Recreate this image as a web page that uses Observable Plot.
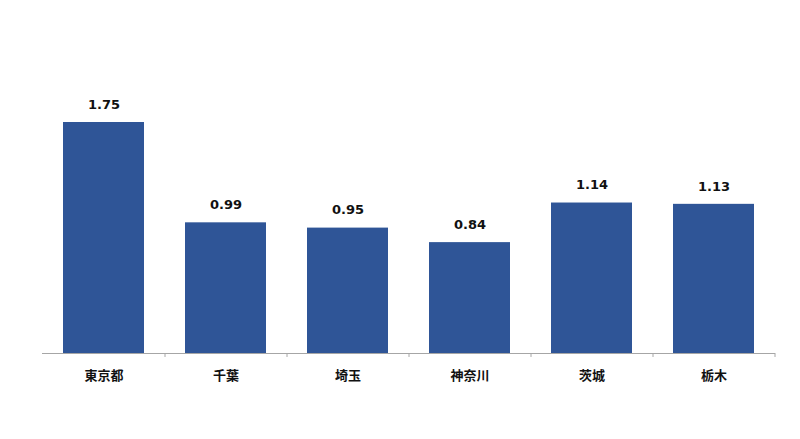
<!DOCTYPE html>
<html><head><meta charset="utf-8">
<script src="https://cdn.jsdelivr.net/npm/d3@7"></script>
<script src="https://cdn.jsdelivr.net/npm/@observablehq/plot@0.6"></script>
<style>
body{margin:0;background:#fff;}
svg{font-family:"DejaVu Sans","Noto Sans CJK JP",sans-serif;}
</style></head>
<body><div id="chart"></div>
<script>
const categories = ["東京都","千葉","埼玉","神奈川","茨城","栃木"];
const values = [1.75, 0.99, 0.95, 0.84, 1.14, 1.13];
const data = categories.map((c,i)=>({pref:c, v:values[i]}));
const boundaries = categories.slice(0, categories.length);

const chart = Plot.plot({
  width: 800, height: 439,
  marginLeft: 42, marginRight: 25, marginTop: 23, marginBottom: 86,
  x: {domain: categories, paddingInner: 0.34, paddingOuter: 0.17, label: null},
  y: {domain: [0, 2.5], axis: null},
  style: {fontFamily: '"DejaVu Sans","Noto Sans CJK JP",sans-serif'},
  marks: [
    Plot.barY(data, {x: "pref", y: "v", fill: "#2F5597"}),
    Plot.ruleY([0], {stroke: "#a6a6a6", strokeWidth: 1}),
    Plot.ruleX(boundaries, {x: d => d, dx: 61, y1: 0, y2: -0.03, stroke: "#a6a6a6"}),
    Plot.text(data, {x: "pref", y: "v", text: d => d.v.toFixed(2), dy: -18, fontSize: 13, fontWeight: "bold", fill: "#111"}),
    Plot.axisX({tickSize: 0, tickPadding: 17, fontSize: 13, fontWeight: "bold", fill: "#111", label: null,
      fontFamily: '"Noto Sans CJK JP",sans-serif'})
  ]
});
document.getElementById("chart").append(chart);
</script></body></html>
